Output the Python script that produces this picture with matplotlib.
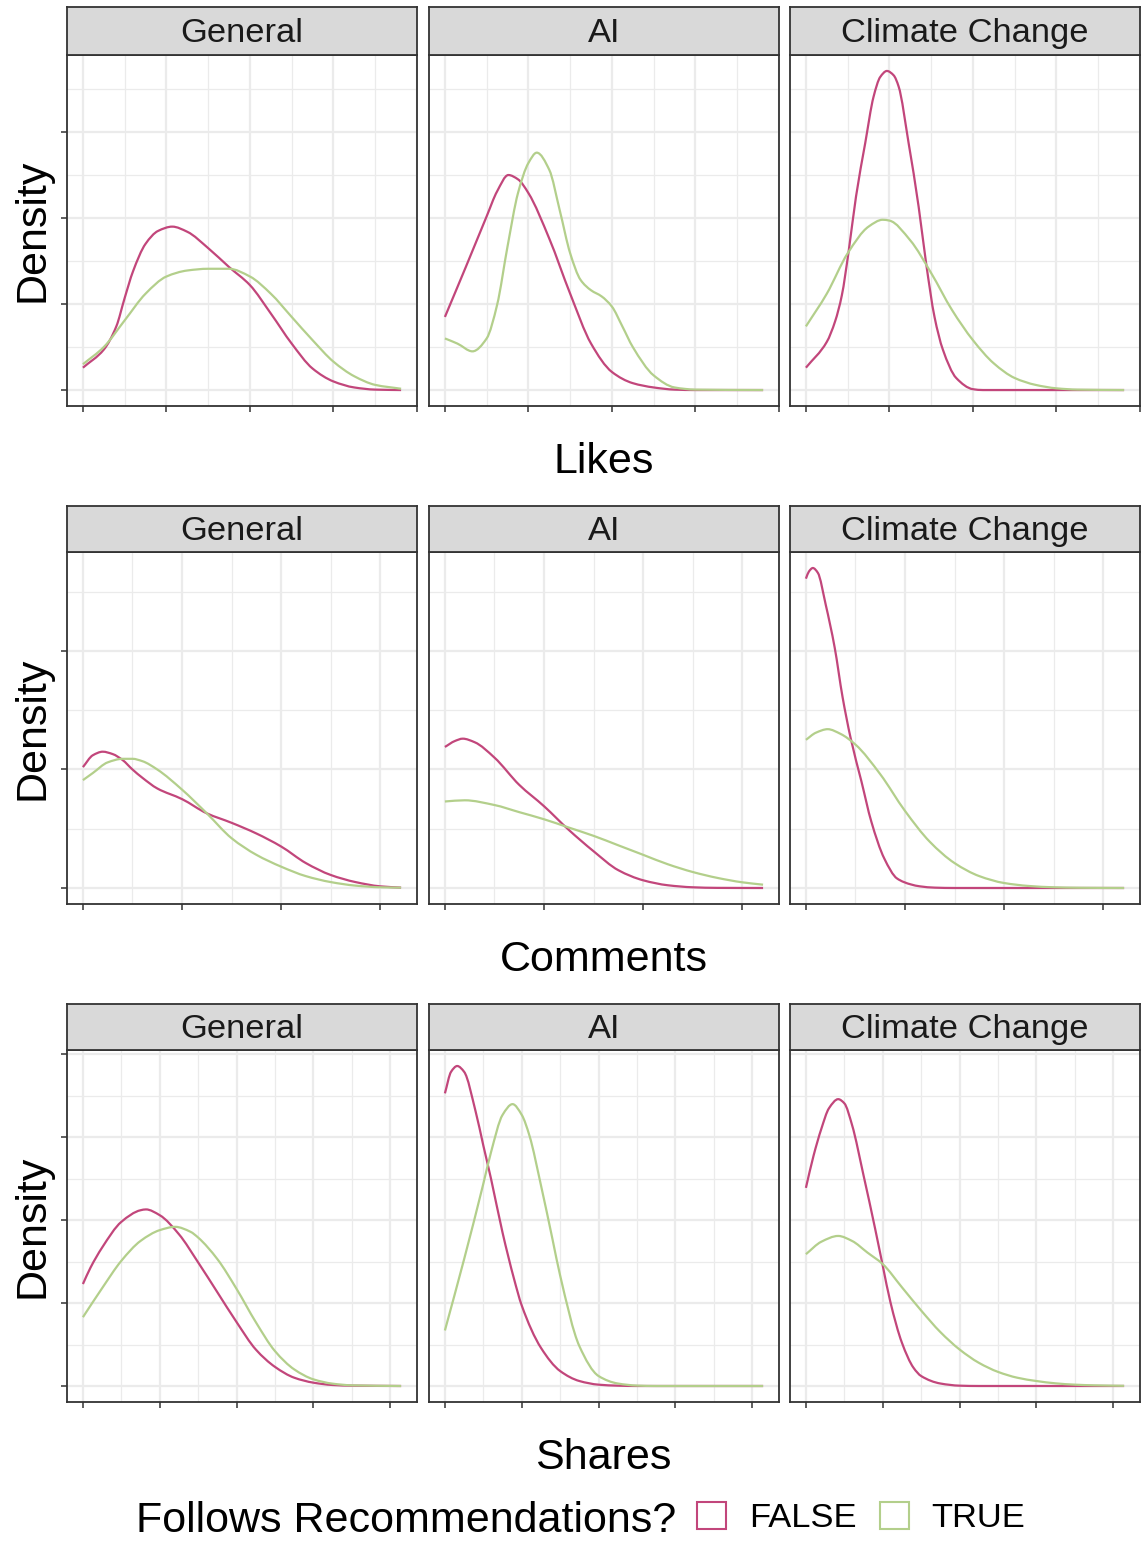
import numpy as np
import matplotlib
matplotlib.use("Agg")
import matplotlib.pyplot as plt
from matplotlib.path import Path
from matplotlib.patches import Patch, PathPatch

plt.rcParams['font.family'] = ['Liberation Sans', 'DejaVu Sans']

# ---------------- data ----------------
metrics = ["Likes", "Comments", "Shares"]
topics = ["General", "AI", "Climate Change"]
groups = ["FALSE", "TRUE"]
legend_title = "Follows Recommendations?"
y_label = "Density"

# Likes
likes_general_false_x = [0, 0.25, 0.4, 0.5, 0.6, 0.75, 0.9, 1.07, 1.25, 1.5, 1.75, 2.0, 2.25, 2.5, 2.75, 3.0, 3.25, 3.5, 3.81]
likes_general_false_y = [0.26, 0.47, 0.74, 1.07, 1.38, 1.70, 1.85, 1.90, 1.84, 1.65, 1.43, 1.22, 0.89, 0.54, 0.25, 0.10, 0.03, 0.005, 0.0]
likes_general_true_x = [0, 0.25, 0.5, 0.75, 1.0, 1.25, 1.5, 1.75, 2.0, 2.25, 2.5, 2.75, 3.0, 3.25, 3.5, 3.81]
likes_general_true_y = [0.30, 0.50, 0.81, 1.12, 1.32, 1.39, 1.41, 1.41, 1.32, 1.12, 0.85, 0.58, 0.33, 0.16, 0.06, 0.015]

likes_ai_false_x = [0, 0.25, 0.5, 0.625, 0.76, 0.875, 1.0, 1.25, 1.5, 1.75, 2.0, 2.25, 2.5, 2.75, 3.0, 3.81]
likes_ai_false_y = [0.85, 1.43, 2.02, 2.31, 2.50, 2.45, 2.29, 1.76, 1.12, 0.54, 0.21, 0.08, 0.03, 0.005, 0.0, 0.0]
likes_ai_true_x = [0, 0.15, 0.33, 0.5, 0.625, 0.75, 0.875, 1.0, 1.1, 1.25, 1.375, 1.5, 1.625, 1.75, 1.875, 2.0, 2.125, 2.25, 2.5, 2.75, 3.0, 3.81]
likes_ai_true_y = [0.60, 0.54, 0.45, 0.60, 0.99, 1.67, 2.29, 2.64, 2.76, 2.56, 2.09, 1.59, 1.28, 1.16, 1.09, 0.97, 0.74, 0.50, 0.17, 0.03, 0.005, 0.0]

likes_climate_false_x = [0, 0.25, 0.35, 0.43, 0.51, 0.60, 0.71, 0.81, 0.89, 0.97, 1.05, 1.11, 1.23, 1.35, 1.44, 1.54, 1.64, 1.80, 2.0, 2.12, 3.81]
likes_climate_false_y = [0.26, 0.56, 0.80, 1.10, 1.60, 2.25, 2.87, 3.41, 3.64, 3.71, 3.66, 3.53, 2.87, 2.13, 1.47, 0.85, 0.47, 0.14, 0.01, 0.0, 0.0]
likes_climate_true_x = [0, 0.25, 0.5, 0.75, 0.92, 1.0, 1.25, 1.5, 1.75, 2.0, 2.25, 2.5, 2.75, 3.0, 3.25, 3.81]
likes_climate_true_y = [0.74, 1.12, 1.59, 1.90, 1.98, 1.97, 1.74, 1.36, 0.93, 0.58, 0.31, 0.14, 0.06, 0.02, 0.005, 0.0]

# Comments
comments_general_false_x = [0, 0.1, 0.2, 0.3, 0.4, 0.5, 0.6, 0.75, 1.0, 1.25, 1.5, 1.75, 2.0, 2.25, 2.5, 2.75, 3.0, 3.21]
comments_general_false_y = [1.02, 1.12, 1.15, 1.13, 1.08, 1.00, 0.93, 0.84, 0.75, 0.63, 0.55, 0.46, 0.35, 0.21, 0.11, 0.05, 0.014, 0.003]
comments_general_true_x = [0, 0.1, 0.25, 0.4, 0.5, 0.6, 0.75, 1.0, 1.25, 1.5, 1.75, 2.0, 2.25, 2.5, 2.75, 3.0, 3.21]
comments_general_true_y = [0.91, 0.97, 1.06, 1.09, 1.09, 1.07, 1.00, 0.83, 0.63, 0.42, 0.28, 0.18, 0.10, 0.05, 0.02, 0.006, 0.003]

comments_ai_false_x = [0, 0.1, 0.18, 0.3, 0.5, 0.75, 1.0, 1.25, 1.5, 1.75, 2.0, 2.25, 2.5, 2.75, 3.21]
comments_ai_false_y = [1.19, 1.24, 1.26, 1.23, 1.10, 0.87, 0.69, 0.49, 0.31, 0.15, 0.065, 0.023, 0.006, 0.001, 0.0]
comments_ai_true_x = [0, 0.2, 0.5, 0.75, 1.0, 1.25, 1.5, 1.75, 2.0, 2.25, 2.5, 2.75, 3.0, 3.21]
comments_ai_true_y = [0.73, 0.74, 0.70, 0.64, 0.58, 0.51, 0.44, 0.36, 0.28, 0.20, 0.135, 0.085, 0.048, 0.028]

comments_climate_false_x = [0, 0.03, 0.07, 0.12, 0.2, 0.29, 0.37, 0.45, 0.56, 0.66, 0.79, 0.92, 1.06, 1.15, 1.3, 1.5, 3.21]
comments_climate_false_y = [2.61, 2.67, 2.70, 2.66, 2.39, 2.03, 1.61, 1.27, 0.90, 0.56, 0.25, 0.08, 0.03, 0.014, 0.003, 0.0, 0.0]
comments_climate_true_x = [0, 0.1, 0.22, 0.35, 0.5, 0.75, 1.0, 1.25, 1.5, 1.75, 2.0, 2.25, 2.5, 2.75, 3.21]
comments_climate_true_y = [1.25, 1.31, 1.34, 1.30, 1.21, 0.96, 0.65, 0.39, 0.21, 0.10, 0.042, 0.017, 0.006, 0.002, 0.0]

# Shares
shares_general_false_x = [0, 0.1, 0.25, 0.5, 0.75, 0.82, 1.0, 1.25, 1.5, 1.75, 2.0, 2.25, 2.5, 2.75, 3.0, 3.25, 3.5, 4.14]
shares_general_false_y = [1.23, 1.43, 1.67, 1.98, 2.12, 2.13, 2.06, 1.83, 1.49, 1.13, 0.77, 0.44, 0.23, 0.10, 0.04, 0.012, 0.004, 0.0]
shares_general_true_x = [0, 0.25, 0.5, 0.75, 1.0, 1.2, 1.4, 1.5, 1.75, 2.0, 2.25, 2.5, 2.75, 3.0, 3.25, 3.5, 4.14]
shares_general_true_y = [0.83, 1.18, 1.51, 1.75, 1.88, 1.92, 1.86, 1.79, 1.53, 1.17, 0.77, 0.42, 0.20, 0.08, 0.028, 0.008, 0.0]

shares_ai_false_x = [0, 0.08, 0.16, 0.25, 0.4, 0.5, 0.6, 0.75, 0.9, 1.0, 1.25, 1.5, 1.75, 2.0, 2.25, 2.5, 4.14]
shares_ai_false_y = [3.53, 3.79, 3.86, 3.79, 3.31, 2.90, 2.50, 1.85, 1.29, 0.97, 0.46, 0.18, 0.06, 0.016, 0.004, 0.0, 0.0]
shares_ai_true_x = [0, 0.25, 0.5, 0.6, 0.75, 0.88, 1.0, 1.1, 1.25, 1.4, 1.5, 1.75, 2.0, 2.25, 2.5, 2.75, 4.14]
shares_ai_true_y = [0.67, 1.53, 2.44, 2.82, 3.27, 3.40, 3.27, 3.02, 2.42, 1.77, 1.33, 0.48, 0.12, 0.03, 0.005, 0.0, 0.0]

shares_climate_false_x = [0, 0.1, 0.2, 0.3, 0.42, 0.5, 0.6, 0.75, 0.9, 1.0, 1.1, 1.25, 1.4, 1.5, 1.75, 2.0, 2.25, 4.14]
shares_climate_false_y = [2.39, 2.78, 3.10, 3.35, 3.46, 3.41, 3.15, 2.54, 1.90, 1.45, 1.01, 0.52, 0.22, 0.12, 0.03, 0.004, 0.0, 0.0]
shares_climate_true_x = [0, 0.2, 0.42, 0.6, 0.8, 1.0, 1.25, 1.5, 1.75, 2.0, 2.25, 2.5, 2.75, 3.0, 3.25, 3.5, 3.75, 4.14]
shares_climate_true_y = [1.59, 1.74, 1.81, 1.75, 1.61, 1.47, 1.19, 0.91, 0.65, 0.44, 0.28, 0.17, 0.10, 0.06, 0.032, 0.016, 0.008, 0.002]

curves = {
    ("Likes", "General"): [(likes_general_false_x, likes_general_false_y), (likes_general_true_x, likes_general_true_y)],
    ("Likes", "AI"): [(likes_ai_false_x, likes_ai_false_y), (likes_ai_true_x, likes_ai_true_y)],
    ("Likes", "Climate Change"): [(likes_climate_false_x, likes_climate_false_y), (likes_climate_true_x, likes_climate_true_y)],
    ("Comments", "General"): [(comments_general_false_x, comments_general_false_y), (comments_general_true_x, comments_general_true_y)],
    ("Comments", "AI"): [(comments_ai_false_x, comments_ai_false_y), (comments_ai_true_x, comments_ai_true_y)],
    ("Comments", "Climate Change"): [(comments_climate_false_x, comments_climate_false_y), (comments_climate_true_x, comments_climate_true_y)],
    ("Shares", "General"): [(shares_general_false_x, shares_general_false_y), (shares_general_true_x, shares_general_true_y)],
    ("Shares", "AI"): [(shares_ai_false_x, shares_ai_false_y), (shares_ai_true_x, shares_ai_true_y)],
    ("Shares", "Climate Change"): [(shares_climate_false_x, shares_climate_false_y), (shares_climate_true_x, shares_climate_true_y)],
}

# ---------------- style ----------------
colors = ["#C2467B", "#B3CF8B"]
W, H = 1147, 1542
col_x = [(67, 417), (429, 779), (790, 1140)]
row_y = [(7, 55, 406), (506, 552, 904), (1004, 1050, 1402)]   # strip top, panel top, panel bottom
xlabel_y = [462, 960, 1458]
dark = "#333333"
grid_c = "#EBEBEB"
base_pt = 31.0
small_pt = 24.8

fig = plt.figure(figsize=(W / 100, H / 100), dpi=100)
fig.patch.set_facecolor("white")


def rect(x0, x1, ytop, ybot):
    return [x0 / W, 1 - ybot / H, (x1 - x0) / W, (ybot - ytop) / H]


def smooth_line(ax, xs, ys, color):
    """Draw a line through the read points as a monotone cubic Bezier path."""
    x = np.asarray(xs, float)
    y = np.asarray(ys, float)
    h = np.diff(x)
    d = np.diff(y) / h
    m = np.zeros_like(x)
    m[0], m[-1] = d[0], d[-1]
    for k in range(1, len(x) - 1):
        if d[k - 1] * d[k] > 0:
            w1 = 2 * h[k] + h[k - 1]
            w2 = h[k] + 2 * h[k - 1]
            m[k] = (w1 + w2) / (w1 / d[k - 1] + w2 / d[k])
    verts = [(x[0], y[0])]
    codes = [Path.MOVETO]
    for k in range(len(x) - 1):
        verts += [(x[k] + h[k] / 3, y[k] + m[k] * h[k] / 3),
                  (x[k + 1] - h[k] / 3, y[k + 1] - m[k + 1] * h[k] / 3),
                  (x[k + 1], y[k + 1])]
        codes += [Path.CURVE4] * 3
    ax.add_patch(PathPatch(Path(verts, codes), facecolor="none", edgecolor=color,
                           lw=1.6, capstyle="butt", joinstyle="round", zorder=3))


for r, metric in enumerate(metrics):
    all_x = np.concatenate([np.asarray(c[0]) for t in topics for c in curves[(metric, t)]])
    all_y = np.concatenate([np.asarray(c[1]) for t in topics for c in curves[(metric, t)]])
    xmin, xmax = all_x.min(), all_x.max()
    ymin, ymax = 0.0, all_y.max()
    xr, yr = xmax - xmin, ymax - ymin
    xlim = (xmin - 0.05 * xr, xmax + 0.05 * xr)
    ylim = (ymin - 0.05 * yr, ymax + 0.05 * yr)
    xmaj = np.arange(np.ceil(xlim[0]), np.floor(xlim[1]) + 1)
    xmin_t = np.arange(np.ceil(xlim[0] - 0.5) + 0.5, xlim[1], 1.0)
    ymaj = np.arange(np.ceil(ylim[0]), np.floor(ylim[1]) + 1)
    ymin_t = np.arange(np.ceil(ylim[0] - 0.5) + 0.5, ylim[1], 1.0)

    st, pt, pb = row_y[r]
    for c, topic in enumerate(topics):
        x0, x1 = col_x[c]
        ax = fig.add_axes(rect(x0, x1, pt, pb))
        ax.set_facecolor("white")
        for g, (xs, ys) in enumerate(curves[(metric, topic)]):
            smooth_line(ax, xs, ys, colors[g])
        ax.set_xlim(*xlim)
        ax.set_ylim(*ylim)
        ax.set_xticks(xmaj)
        ax.set_xticks(xmin_t, minor=True)
        ax.set_yticks(ymaj)
        ax.set_yticks(ymin_t, minor=True)
        ax.set_xticklabels([])
        ax.set_yticklabels([])
        ax.grid(which="major", color=grid_c, lw=1.6, zorder=0)
        ax.grid(which="minor", color=grid_c, lw=0.9, zorder=0)
        ax.set_axisbelow(True)
        ax.tick_params(which="minor", length=0)
        ax.tick_params(which="major", length=4, width=1.1, color=dark, direction="out")
        if c != 0:
            ax.tick_params(axis="y", which="major", length=0)
        for s in ax.spines.values():
            s.set_color(dark)
            s.set_linewidth(1.3)

        sax = fig.add_axes(rect(x0, x1, st, pt))
        sax.set_facecolor("#D9D9D9")
        sax.set_xticks([])
        sax.set_yticks([])
        for s in sax.spines.values():
            s.set_color(dark)
            s.set_linewidth(1.3)
        sax.text(0.5, 0.45, topic, ha="center", va="center", fontsize=small_pt,
                 color="#1A1A1A", transform=sax.transAxes)

    fig.text(33 / W, 1 - (pt + pb) / 2 / H, y_label, rotation=90, ha="center", va="center",
             fontsize=base_pt)
    fig.text(603.5 / W, 1 - xlabel_y[r] / H, metric, ha="center", va="center", fontsize=base_pt)

# legend
fig.text(676 / W, 1 - 1521 / H, legend_title, ha="right", va="center", fontsize=base_pt)
handles = [Patch(facecolor="none", edgecolor=colors[i], lw=1.5, label=groups[i]) for i in range(2)]
fig.legend(handles=handles, loc="center left", bbox_to_anchor=(697 / W, 1 - 1518 / H), ncol=2,
           frameon=False, fontsize=small_pt, handlelength=0.84, handleheight=0.84,
           handletextpad=0.67, columnspacing=0.67, borderaxespad=0, borderpad=0)

fig.savefig("out.png", dpi=100, facecolor="white")
